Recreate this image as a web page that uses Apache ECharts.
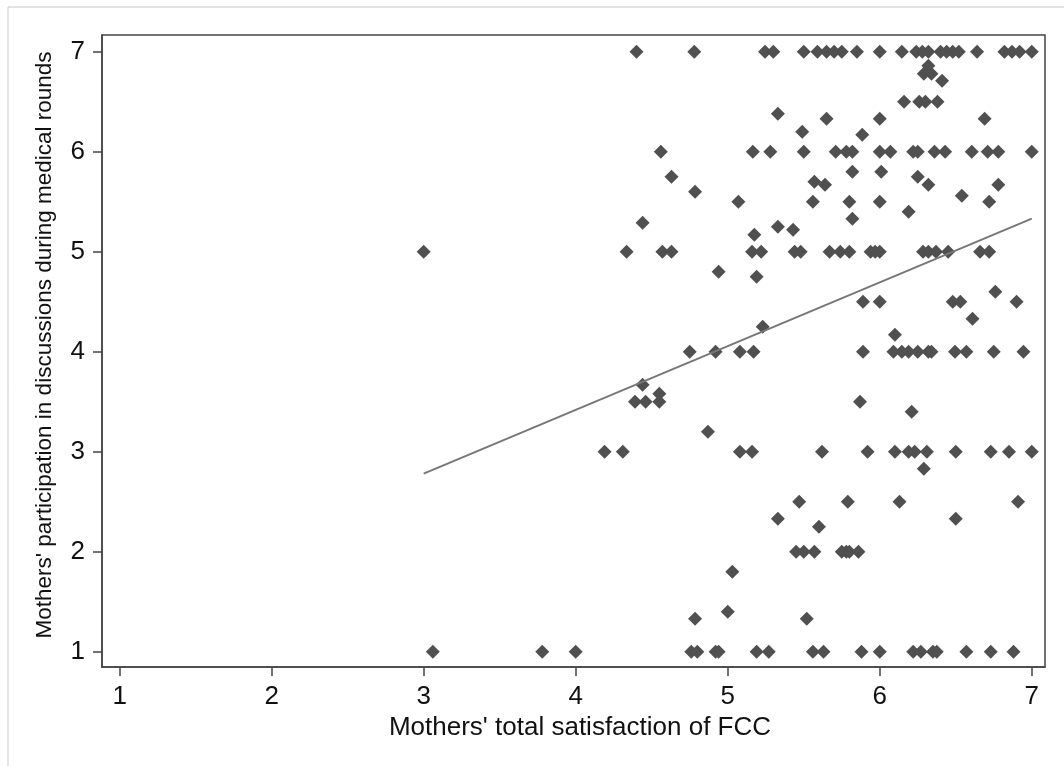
<!DOCTYPE html>
<html>
<head>
<meta charset="utf-8">
<script src="https://cdn.jsdelivr.net/npm/echarts@6/dist/echarts.min.js"></script>
<style>
html,body{margin:0;padding:0;background:#fff;}
#chart{width:1064px;height:766px;}
</style>
</head>
<body>
<div id="chart"></div>
<script>
// Mothers' total satisfaction of FCC (x) and participation in rounds (y), paired
const satisfaction = [
  // y = 7
  4.40, 4.78, 5.245, 5.30, 5.50, 5.59, 5.65, 5.70, 5.75, 5.85, 6.00, 6.145, 6.24, 6.28, 6.32, 6.40, 6.44, 6.48, 6.52, 6.64, 6.82, 6.87, 6.92, 7.00,
  // 6.x
  6.32, 6.29, 6.34, 6.41, 6.16, 6.26, 6.30, 6.38, 5.33, 5.65, 6.00, 6.69, 5.49, 5.885,
  // y = 6
  4.56, 5.165, 5.28, 5.50, 5.71, 5.78, 5.82, 6.00, 6.07, 6.22, 6.25, 6.36, 6.43, 6.605, 6.71, 6.78, 7.00,
  // 5.x
  5.82, 6.01, 6.25, 6.32, 5.57, 5.64, 6.78, 4.63, 4.785, 4.44, 5.07, 5.56, 5.80, 6.00, 6.54, 6.72, 6.19, 5.82, 5.175, 5.33, 5.43,
  // y = 5
  3.00, 4.335, 4.57, 4.63, 5.16, 5.22, 5.44, 5.48, 5.67, 5.74, 5.80, 5.94, 5.97, 6.00, 6.285, 6.32, 6.37, 6.45, 6.66, 6.72,
  // 4.x
  4.94, 5.19, 6.76, 5.23, 5.89, 6.00, 6.48, 6.53, 6.90, 6.61, 6.10,
  // y = 4
  4.75, 4.92, 5.08, 5.17, 5.89, 6.09, 6.145, 6.19, 6.25, 6.32, 6.34, 6.495, 6.57, 6.75, 6.945,
  // 3.x
  4.44, 4.39, 4.46, 4.55, 4.55, 5.87, 6.21, 4.87,
  // y = 3
  4.19, 4.31, 5.08, 5.16, 5.62, 5.92, 6.10, 6.19, 6.23, 6.31, 6.50, 6.73, 6.85, 7.00,
  // 2.x
  6.29, 5.47, 5.79, 6.13, 6.91, 5.33, 6.50, 5.60,
  // y = 2
  5.45, 5.50, 5.57, 5.75, 5.78, 5.80, 5.86,
  // 1.x
  5.03, 5.00, 5.52, 4.785,
  // y = 1
  3.06, 3.78, 4.00, 4.76, 4.80, 4.92, 4.94, 5.19, 5.27, 5.56, 5.63, 5.88, 6.00, 6.22, 6.27, 6.35, 6.375, 6.57, 6.73, 6.88
];
const participation = [
  7,7,7,7,7,7,7,7,7,7,7,7,7,7,7,7,7,7,7,7,7,7,7,7,
  6.86, 6.78, 6.78, 6.71, 6.5, 6.5, 6.5, 6.5, 6.38, 6.33, 6.33, 6.33, 6.2, 6.17,
  6,6,6,6,6,6,6,6,6,6,6,6,6,6,6,6,6,
  5.8, 5.8, 5.75, 5.67, 5.7, 5.67, 5.67, 5.75, 5.6, 5.29, 5.5, 5.5, 5.5, 5.5, 5.56, 5.5, 5.4, 5.33, 5.17, 5.25, 5.22,
  5,5,5,5,5,5,5,5,5,5,5,5,5,5,5,5,5,5,5,5,
  4.8, 4.75, 4.6, 4.25, 4.5, 4.5, 4.5, 4.5, 4.5, 4.33, 4.17,
  4,4,4,4,4,4,4,4,4,4,4,4,4,4,4,
  3.67, 3.5, 3.5, 3.58, 3.5, 3.5, 3.4, 3.2,
  3,3,3,3,3,3,3,3,3,3,3,3,3,3,
  2.83, 2.5, 2.5, 2.5, 2.5, 2.33, 2.33, 2.25,
  2,2,2,2,2,2,2,
  1.8, 1.4, 1.33, 1.33,
  1,1,1,1,1,1,1,1,1,1,1,1,1,1,1,1,1,1,1,1
];
// Fitted values line endpoints
const fitX = [3, 7];
const fitY = [2.78, 5.33];
// Tick labels
const xTicks = [1, 2, 3, 4, 5, 6, 7];
const yTicks = [1, 2, 3, 4, 5, 6, 7];

const points = satisfaction.map((x, i) => [x, participation[i]]);
const fitLine = fitX.map((x, i) => [x, fitY[i]]);

const chart = echarts.init(document.getElementById('chart'), null, {renderer: 'canvas'});
const FONT = "'Liberation Sans', Arial, sans-serif";
const axisCol = '#444';

chart.setOption({
  animation: false,
  backgroundColor: '#fff',
  grid: {
    left: 102, right: 19, top: 35, bottom: 99,
    show: true, borderColor: axisCol, borderWidth: 1.5, backgroundColor: '#fff'
  },
  xAxis: {
    type: 'value',
    min: 0.884, max: 7.087,
    name: "Mothers' total satisfaction of FCC",
    nameLocation: 'middle',
    nameGap: 42,
    nameTextStyle: {fontFamily: FONT, fontSize: 26, color: '#111', padding: [0, 0, 0, 13]},
    axisLine: {show: true, lineStyle: {color: axisCol, width: 1.5}},
    axisTick: {show: true, length: 9, customValues: xTicks, lineStyle: {color: axisCol, width: 1.5}},
    axisLabel: {customValues: xTicks, margin: 17, fontFamily: FONT, fontSize: 26, color: '#111'},
    splitLine: {show: false}
  },
  yAxis: {
    type: 'value',
    min: 0.847, max: 7.167,
    name: "Mothers' participation in discussions during medical rounds",
    nameLocation: 'middle',
    nameRotate: 90,
    nameGap: 46,
    nameTextStyle: {fontFamily: FONT, fontSize: 22.5, color: '#111', padding: [0, 0, 0, 12]},
    axisLine: {show: true, lineStyle: {color: axisCol, width: 1.5}},
    axisTick: {show: true, length: 9, customValues: yTicks, lineStyle: {color: axisCol, width: 1.5}},
    axisLabel: {customValues: yTicks, margin: 17, fontFamily: FONT, fontSize: 26, color: '#111'},
    splitLine: {show: false}
  },
  graphic: [
    {type: 'line', shape: {x1: 8, y1: 7, x2: 1064, y2: 7}, style: {stroke: '#c8c8c8', lineWidth: 1}, silent: true},
    {type: 'line', shape: {x1: 8, y1: 7, x2: 8, y2: 766}, style: {stroke: '#c8c8c8', lineWidth: 1}, silent: true}
  ],
  series: [
    {
      type: 'scatter',
      data: points,
      symbol: 'diamond',
      symbolSize: 14,
      itemStyle: {color: '#505050', opacity: 1},
      z: 2
    },
    {
      type: 'line',
      data: fitLine,
      symbol: 'none',
      lineStyle: {color: '#777', width: 2},
      z: 3
    }
  ]
});
</script>
</body>
</html>
